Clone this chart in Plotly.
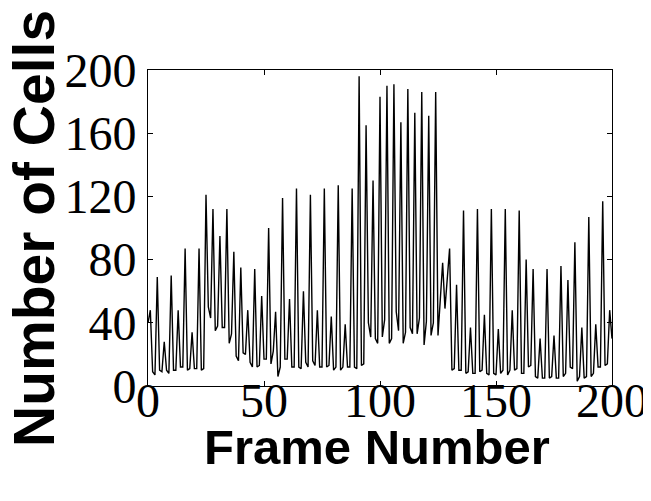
import plotly.graph_objects as go

cells = [
    40, 48, 9, 7, 69, 10, 9, 28, 10, 8,
    70, 10, 10, 48, 12, 12, 87, 10, 11, 34,
    11, 11, 87, 10, 11, 121, 50, 43, 112, 35,
    38, 95, 37, 37, 112, 27, 33, 85, 19, 16,
    75, 21, 20, 48, 15, 12, 74, 12, 13, 57,
    17, 17, 100, 14, 22, 47, 6, 12, 119, 17,
    17, 55, 12, 12, 125, 12, 11, 60, 15, 12,
    121, 16, 13, 48, 12, 12, 125, 12, 13, 44,
    10, 12, 127, 10, 12, 39, 12, 12, 125, 12,
    11, 196, 13, 14, 165, 40, 31, 130, 30, 27,
    183, 31, 42, 190, 27, 30, 191, 47, 35, 167,
    27, 34, 188, 37, 33, 173, 33, 43, 186, 26,
    41, 171, 32, 40, 186, 32, 55, 78, 49, 68,
    87, 10, 11, 64, 10, 10, 111, 8, 9, 37,
    8, 8, 112, 9, 10, 45, 8, 7, 112, 8,
    7, 36, 8, 10, 112, 7, 10, 48, 10, 11,
    111, 8, 8, 80, 12, 13, 74, 6, 5, 30,
    5, 5, 74, 5, 6, 32, 5, 5, 76, 6,
    8, 67, 12, 11, 91, 3, 6, 37, 5, 6,
    107, 6, 8, 39, 12, 12, 117, 13, 14, 48,
    30,
]
frames = list(range(len(cells)))

x_ticks = [0, 50, 100, 150, 200]
y_ticks = [0, 40, 80, 120, 160, 200]

fig = go.Figure()
fig.add_trace(go.Scatter(x=frames, y=cells, mode="lines",
                         line=dict(color="black", width=1.4),
                         showlegend=False, hoverinfo="skip"))

tick_font = dict(family="Liberation Serif, Times New Roman, serif", size=48, color="black")
axis_common = dict(showgrid=False, zeroline=False, showline=True, linecolor="black",
                   linewidth=1, mirror="ticks", ticks="inside", ticklen=5,
                   tickcolor="black", tickfont=tick_font, automargin=False)

fig.update_xaxes(range=[0, 200], tickvals=x_ticks, ticktext=[str(v) for v in x_ticks],
                 ticklabelstandoff=-28, **axis_common)
fig.update_yaxes(range=[0, 200], tickvals=y_ticks, ticktext=[str(v) for v in y_ticks],
                 ticklabelstandoff=1, **axis_common)

title_font = dict(family="Liberation Sans, Arial, sans-serif", size=49, color="black")
fig.update_layout(
    width=651, height=501,
    margin=dict(l=140, r=47, t=62, b=123),
    paper_bgcolor="white", plot_bgcolor="white",
    annotations=[
        dict(text="<b>Frame Number</b>", xref="paper", yref="paper",
             x=0.494, y=-0.193, xanchor="center", yanchor="middle",
             showarrow=False, font=title_font),
        dict(text="<b>Number of Cells</b>", xref="paper", yref="paper",
             x=-0.2457, y=0.5, xanchor="center", yanchor="middle", textangle=-90,
             showarrow=False, font=dict(family="Liberation Sans, Arial, sans-serif",
                                        size=57, color="black")),
    ],
)

fig.write_html("out.html")
